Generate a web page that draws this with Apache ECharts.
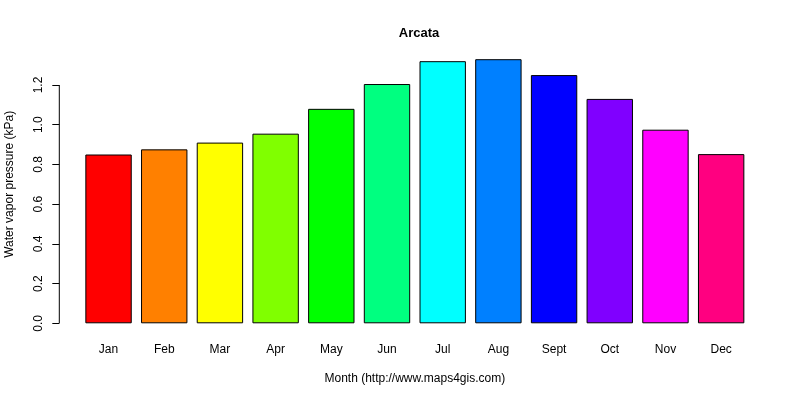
<!DOCTYPE html>
<html>
<head>
<meta charset="utf-8">
<script src="https://cdn.jsdelivr.net/npm/echarts@6/dist/echarts.min.js"></script>
<style>
  html, body { margin: 0; padding: 0; background: #fff; }
  #main { width: 800px; height: 400px; }
</style>
</head>
<body>
<div id="main"></div>
<script>
// 月份和数值
var months = ['Jan', 'Feb', 'Mar', 'Apr', 'May', 'Jun', 'Jul', 'Aug', 'Sept', 'Oct', 'Nov', 'Dec'];
var pressure = [0.85, 0.876, 0.91, 0.955, 1.08, 1.205, 1.32, 1.33, 1.25, 1.13, 0.975, 0.852];
var barColors = ['#FF0000', '#FF8000', '#FFFF00', '#80FF00', '#00FF00', '#00FF80',
                 '#00FFFF', '#0080FF', '#0000FF', '#8000FF', '#FF00FF', '#FF0080'];
var yTicks = [0, 0.2, 0.4, 0.6, 0.8, 1.0, 1.2];

var myChart = echarts.init(document.getElementById('main'));
var font = 'Liberation Sans, Arial, sans-serif';

var option = {
    animation: false,
    backgroundColor: '#fff',
    title: {
        text: 'Arcata',
        left: 414,
        top: 22,
        textAlign: 'center',
        textStyle: { fontFamily: font, fontSize: 13, fontWeight: 'bold', color: '#000' }
    },
    grid: { left: 80.7, right: 51, top: 45.3, bottom: 76.7, containLabel: false, outerBoundsMode: 'none' },
    xAxis: {
        type: 'category',
        data: months,
        axisLine: { show: false },
        axisTick: { show: false },
        axisLabel: { margin: 20, color: '#000', fontFamily: font, fontSize: 12 },
        name: 'Month (http://www.maps4gis.com)',
        nameLocation: 'middle',
        nameGap: 49,
        nameTextStyle: { color: '#000', fontFamily: font, fontSize: 12 }
    },
    yAxis: {
        type: 'value',
        min: 0,
        max: 1.4,
        interval: 0.2,
        offset: 21.4,
        splitLine: { show: false },
        axisLine: { show: false },
        axisTick: { show: true, length: 7, customValues: yTicks, lineStyle: { color: '#000' } },
        axisLabel: {
            rotate: 90,
            margin: 15,
            color: '#000',
            fontFamily: font,
            fontSize: 12,
            customValues: yTicks,
            formatter: function (v) { return v.toFixed(1); }
        },
        name: 'Water vapor pressure (kPa)',
        nameLocation: 'middle',
        nameGap: 44,
        nameRotate: 90,
        nameTextStyle: { color: '#000', fontFamily: font, fontSize: 12 }
    },
    series: [{
        type: 'bar',
        barCategoryGap: '16.7%',
        data: pressure.map(function (v, i) {
            return { value: v, itemStyle: { color: barColors[i] } };
        }),
        itemStyle: { borderColor: '#000', borderWidth: 1 }
    }]
};

myChart.setOption(option);

// y轴线只画0到1.2
var p0 = myChart.convertToPixel({ gridIndex: 0 }, [0, yTicks[0]]);
var p1 = myChart.convertToPixel({ gridIndex: 0 }, [0, yTicks[yTicks.length - 1]]);
var axisX = 80.7 - 21.4;
myChart.setOption({
    graphic: [{
        type: 'line',
        shape: { x1: axisX, y1: p0[1], x2: axisX, y2: p1[1] },
        style: { stroke: '#000', lineWidth: 1 }
    }]
});
</script>
</body>
</html>
